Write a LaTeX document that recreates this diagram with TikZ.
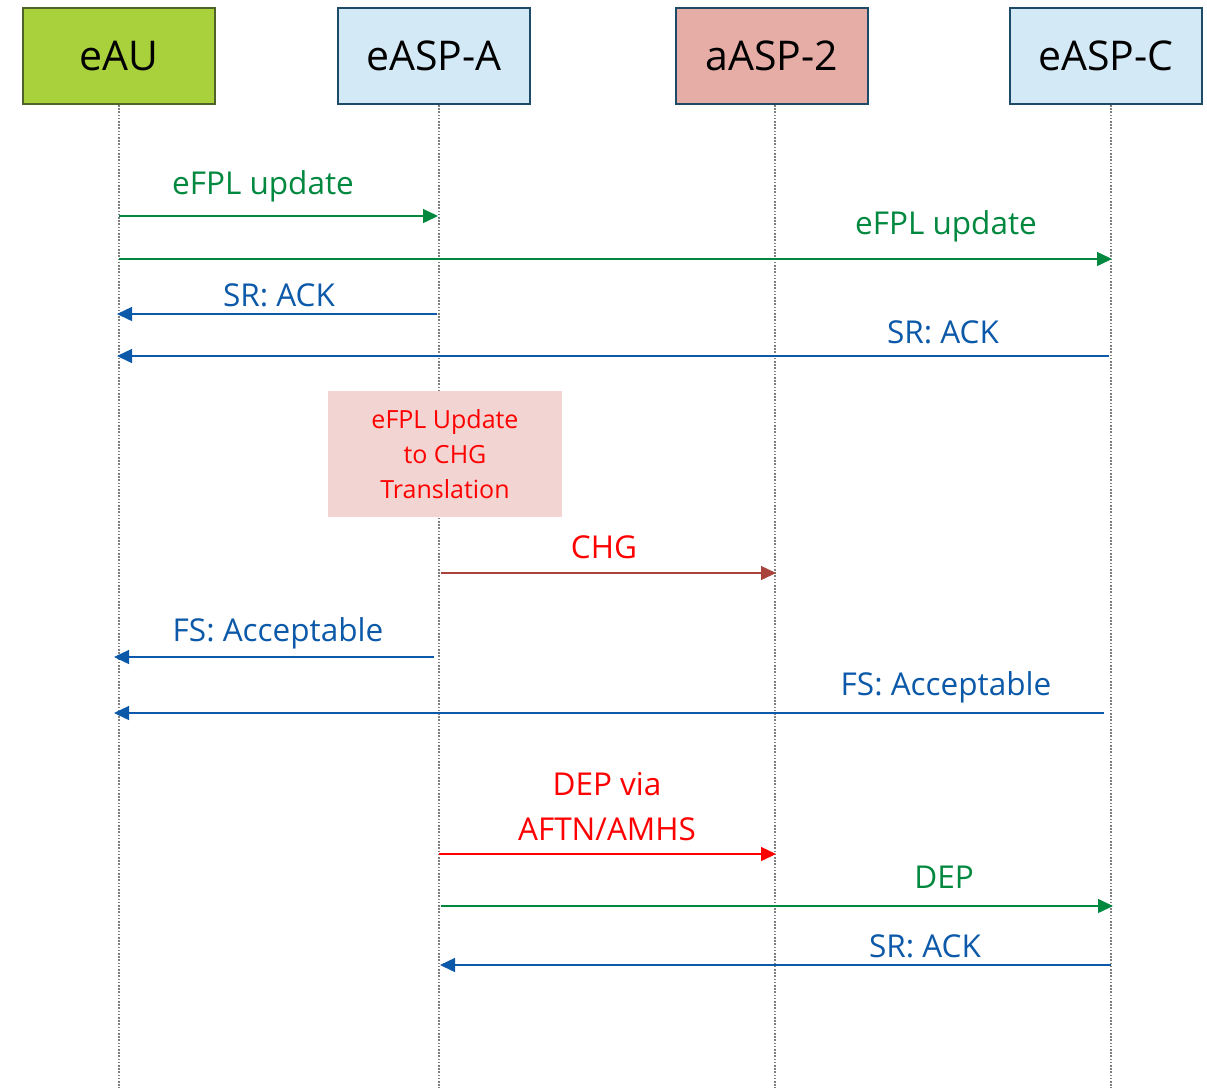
\documentclass[tikz,border=0pt]{standalone}
\usepackage{fontspec}
\setmainfont{Open Sans}
\usetikzlibrary{arrows.meta}
\definecolor{hdrgreen}{HTML}{A9D13B}
\definecolor{hdrgreenb}{HTML}{4F6228}
\definecolor{hdrblue}{HTML}{D4E9F6}
\definecolor{hdrblueb}{HTML}{1D4A67}
\definecolor{hdrred}{HTML}{E5ADA6}
\definecolor{msggreen}{HTML}{00883F}
\definecolor{msgblue}{HTML}{0B59A8}
\definecolor{msgbrown}{HTML}{A8443C}
\definecolor{msgred}{HTML}{FF0000}
\definecolor{notefill}{HTML}{F2D5D2}
\begin{document}
\begin{tikzpicture}[x=1pt,y=-1pt,
  hdr/.style={draw,line width=2.5pt,minimum width=192pt,minimum height=96pt,inner sep=0pt,font=\fontsize{41}{48}\selectfont},
  life/.style={gray,line width=1.6pt,dash pattern=on 1.6pt off 1.6pt},
  msg/.style={line width=1.4pt,-{Triangle[length=15pt,width=14pt]}},
  lbl/.style={inner sep=0pt,font=\fontsize{31.5}{38}\selectfont},
  note/.style={fill=notefill,minimum width=234pt,minimum height=126pt,inner sep=0pt,align=center,text=msgred,font=\fontsize{25}{35}\selectfont}]
\useasboundingbox (0,0) rectangle (1207,1088);
% headers
\node[hdr,fill=hdrgreen,draw=hdrgreenb] (eau) at (119,56) {eAU};
\node[hdr,fill=hdrblue,draw=hdrblueb] (ea) at (434,56) {eASP-A};
\node[hdr,fill=hdrred,draw=hdrblueb] (a2) at (772,56) {aASP-2};
\node[hdr,fill=hdrblue,draw=hdrblueb] (ec) at (1106,56) {eASP-C};
% lifeline ends
\coordinate (l1t) at (119,105); \coordinate (l1b) at (119,1088);
\coordinate (l2t) at (439,105); \coordinate (l2b) at (439,1088);
\coordinate (l3t) at (775,105); \coordinate (l3b) at (775,1088);
\coordinate (l4t) at (1111,105); \coordinate (l4b) at (1111,1088);
\draw[life] (l1t) -- (l1b);
\draw[life] (l2t) -- (l2b);
\draw[life] (l3t) -- (l3b);
\draw[life] (l4t) -- (l4b);
% note
\node[note] (tr) at (445,454) {eFPL Update\\to CHG\\Translation};
% message end points
\coordinate (m1a) at (119,216); \coordinate (m1b) at (438,216);
\coordinate (m2a) at (119,259); \coordinate (m2b) at (1112,259);
\coordinate (m3a) at (437,314); \coordinate (m3b) at (117,314);
\coordinate (m4a) at (1109,356); \coordinate (m4b) at (117,356);
\coordinate (m5a) at (441,573); \coordinate (m5b) at (776,573);
\coordinate (m6a) at (434,657); \coordinate (m6b) at (114,657);
\coordinate (m7a) at (1104,713); \coordinate (m7b) at (114,713);
\coordinate (m8a) at (439,854); \coordinate (m8b) at (776,854);
\coordinate (m9a) at (441,906); \coordinate (m9b) at (1113,906);
\coordinate (m10a) at (1111,965); \coordinate (m10b) at (440,965);
\draw[msg,msggreen] (m1a) -- (m1b);
\draw[msg,msggreen] (m2a) -- (m2b);
\draw[msg,msgblue] (m3a) -- (m3b);
\draw[msg,msgblue] (m4a) -- (m4b);
\draw[msg,msgbrown] (m5a) -- (m5b);
\draw[msg,msgblue] (m6a) -- (m6b);
\draw[msg,msgblue] (m7a) -- (m7b);
\draw[msg,msgred] (m8a) -- (m8b);
\draw[msg,msggreen] (m9a) -- (m9b);
\draw[msg,msgblue] (m10a) -- (m10b);
% labels
\node[lbl,text=msggreen] (t1) at (263,186) {eFPL update};
\node[lbl,text=msggreen] (t2) at (946,226) {eFPL update};
\node[lbl,text=msgblue] (t3) at (279,295) {SR: ACK};
\node[lbl,text=msgblue] (t4) at (943,332) {SR: ACK};
\node[lbl,text=msgred] (t5) at (604,547) {CHG};
\node[lbl,text=msgblue] (t6) at (278,633) {FS: Acceptable};
\node[lbl,text=msgblue] (t7) at (946,687) {FS: Acceptable};
\node[lbl,text=msgred,align=center,font=\fontsize{31.5}{45}\selectfont] (t8) at (607,807) {DEP via\\AFTN/AMHS};
\node[lbl,text=msggreen] (t9) at (944,877) {DEP};
\node[lbl,text=msgblue] (t10) at (925,946) {SR: ACK};
\end{tikzpicture}
\end{document}
